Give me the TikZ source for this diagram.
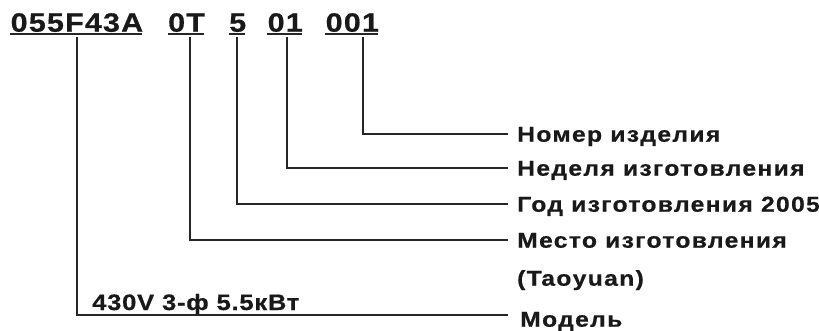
\documentclass[tikz,border=0pt]{standalone}
\usepackage{fontspec}
\setmainfont{Liberation Sans}[BoldFont={* Bold}]
\newfontfamily\codefont{Liberation Sans Bold}[FakeStretch=1.15,FakeBold=0.6,LetterSpace=4.5]
\newfontfamily\labfont{Liberation Sans Bold}[FakeStretch=1.15,FakeBold=0.6,LetterSpace=6]
\newfontfamily\specfont{Liberation Sans Bold}[FakeStretch=1.15,FakeBold=0.6,LetterSpace=3.2]
\begin{document}
\begin{tikzpicture}[x=1pt,y=-1pt,
  code/.style={inner sep=0pt,anchor=base west,font=\codefont\fontsize{26.5}{27}\selectfont,text=black!90},
  lab/.style={inner sep=0pt,anchor=west,font=\labfont\fontsize{21.5}{22}\selectfont,text=black!90,text height=15.4pt,text depth=0pt},
  spec/.style={inner sep=0pt,anchor=west,font=\specfont\fontsize{22.3}{23}\selectfont,text=black!90,text height=16pt,text depth=0pt},
  uline/.style={line width=2pt,black!85},
  lead/.style={line width=1.8pt,black!85}]
\useasboundingbox (0,0) rectangle (819,331);
% code segments
\node[code] (c1) at (10.5,31.7) {055F43A};
\node[code] (c2) at (168,31.7) {0T};
\node[code] (c3) at (229,31.7) {5};
\node[code] (c4) at (267.5,31.7) {01};
\node[code] (c5) at (325.5,31.7) {001};
\draw[uline] (10,34.5) -- (141.5,34.5);
\draw[uline] (168,34.5) -- (204,34.5);
\draw[uline] (229,34.5) -- (244.5,34.5);
\draw[uline] (267,34.5) -- (301.5,34.5);
\draw[uline] (325,34.5) -- (377.5,34.5);
% labels
\node[lab] (l5) at (517,134) {Номер изделия};
\node[lab] (l4) at (517,168) {Неделя изготовления};
\node[lab] (l3) at (517,204) {Год изготовления 2005};
\node[lab] (l2) at (517,240) {Место изготовления};
\node[lab] (l2b) at (517,278) {(Taoyuan)};
\node[lab] (l1) at (520,319) {Модель};
\node[spec] (sp) at (92,302) {430V 3-ф 5.5кВт};
% connector start points
\coordinate (v1) at (77,37);
\coordinate (v2) at (190,37);
\coordinate (v3) at (237,37);
\coordinate (v4) at (287,37);
\coordinate (v5) at (363,37);
\coordinate (e1) at (508,315);
% connectors
\draw[lead] (v5) |- ([xshift=-9pt]l5.west);
\draw[lead] (v4) |- ([xshift=-9pt]l4.west);
\draw[lead] (v3) |- ([xshift=-9pt]l3.west);
\draw[lead] (v2) |- ([xshift=-9pt]l2.west);
\draw[lead] (v1) |- (e1);
\end{tikzpicture}
\end{document}
